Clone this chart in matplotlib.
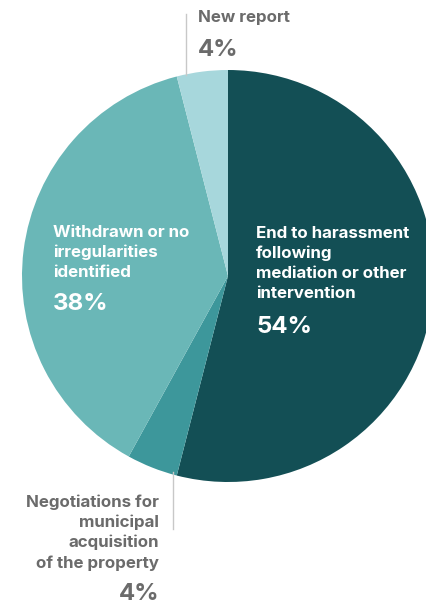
import matplotlib
matplotlib.use("Agg")
import matplotlib.pyplot as plt

# data (clockwise from 12 o'clock)
labels = ["End to harassment\nfollowing\nmediation or other\nintervention",
          "Negotiations for\nmunicipal\nacquisition\nof the property",
          "Withdrawn or no\nirregularities\nidentified",
          "New report"]
shares = [54, 4, 38, 4]
colors = ["#134f55", "#3d979b", "#6ab7b7", "#a7d7dc"]

W, H = 427, 607
plt.rcParams["font.family"] = ["Inter", "DejaVu Sans"]

fig = plt.figure(figsize=(W / 100, H / 100), dpi=100)
ax = fig.add_axes([0, 0, 1, 1])

cx, cy, r = 228, H - 276, 206
ax.pie(shares, colors=colors, startangle=90, counterclock=False,
       center=(cx, cy), radius=r, wedgeprops=dict(linewidth=0))
ax.set_xlim(0, W)
ax.set_ylim(0, H)
ax.set_aspect("equal")
ax.axis("off")

gray = "#6b6b6b"
lab_fs, pct_fs = 12.2, 17.3


def put(x, y_img, s, color, size, ha="left", va="top"):
    ax.text(x, H - y_img, s, color=color, fontsize=size, fontweight="bold",
            ha=ha, va=va, linespacing=1.4)


# inside labels
put(256, 226, labels[0], "white", lab_fs)
put(256, 316, f"{shares[0]}%", "white", pct_fs)
put(53, 225, labels[2], "white", lab_fs)
put(53, 293, f"{shares[2]}%", "white", pct_fs)

# outside labels with leader lines
ax.plot([186, 186], [H - 14, H - 75], color="#c8c8c8", lw=1)
put(198, 10, labels[3], gray, lab_fs)
put(198, 39, f"{shares[3]}%", gray, pct_fs)

ax.plot([173, 173], [H - 472, H - 529], color="#c8c8c8", lw=1)
put(159, 494, labels[1], gray, lab_fs, ha="right")
put(159, 583, f"{shares[1]}%", gray, pct_fs, ha="right")

fig.savefig("out.png", dpi=100)
